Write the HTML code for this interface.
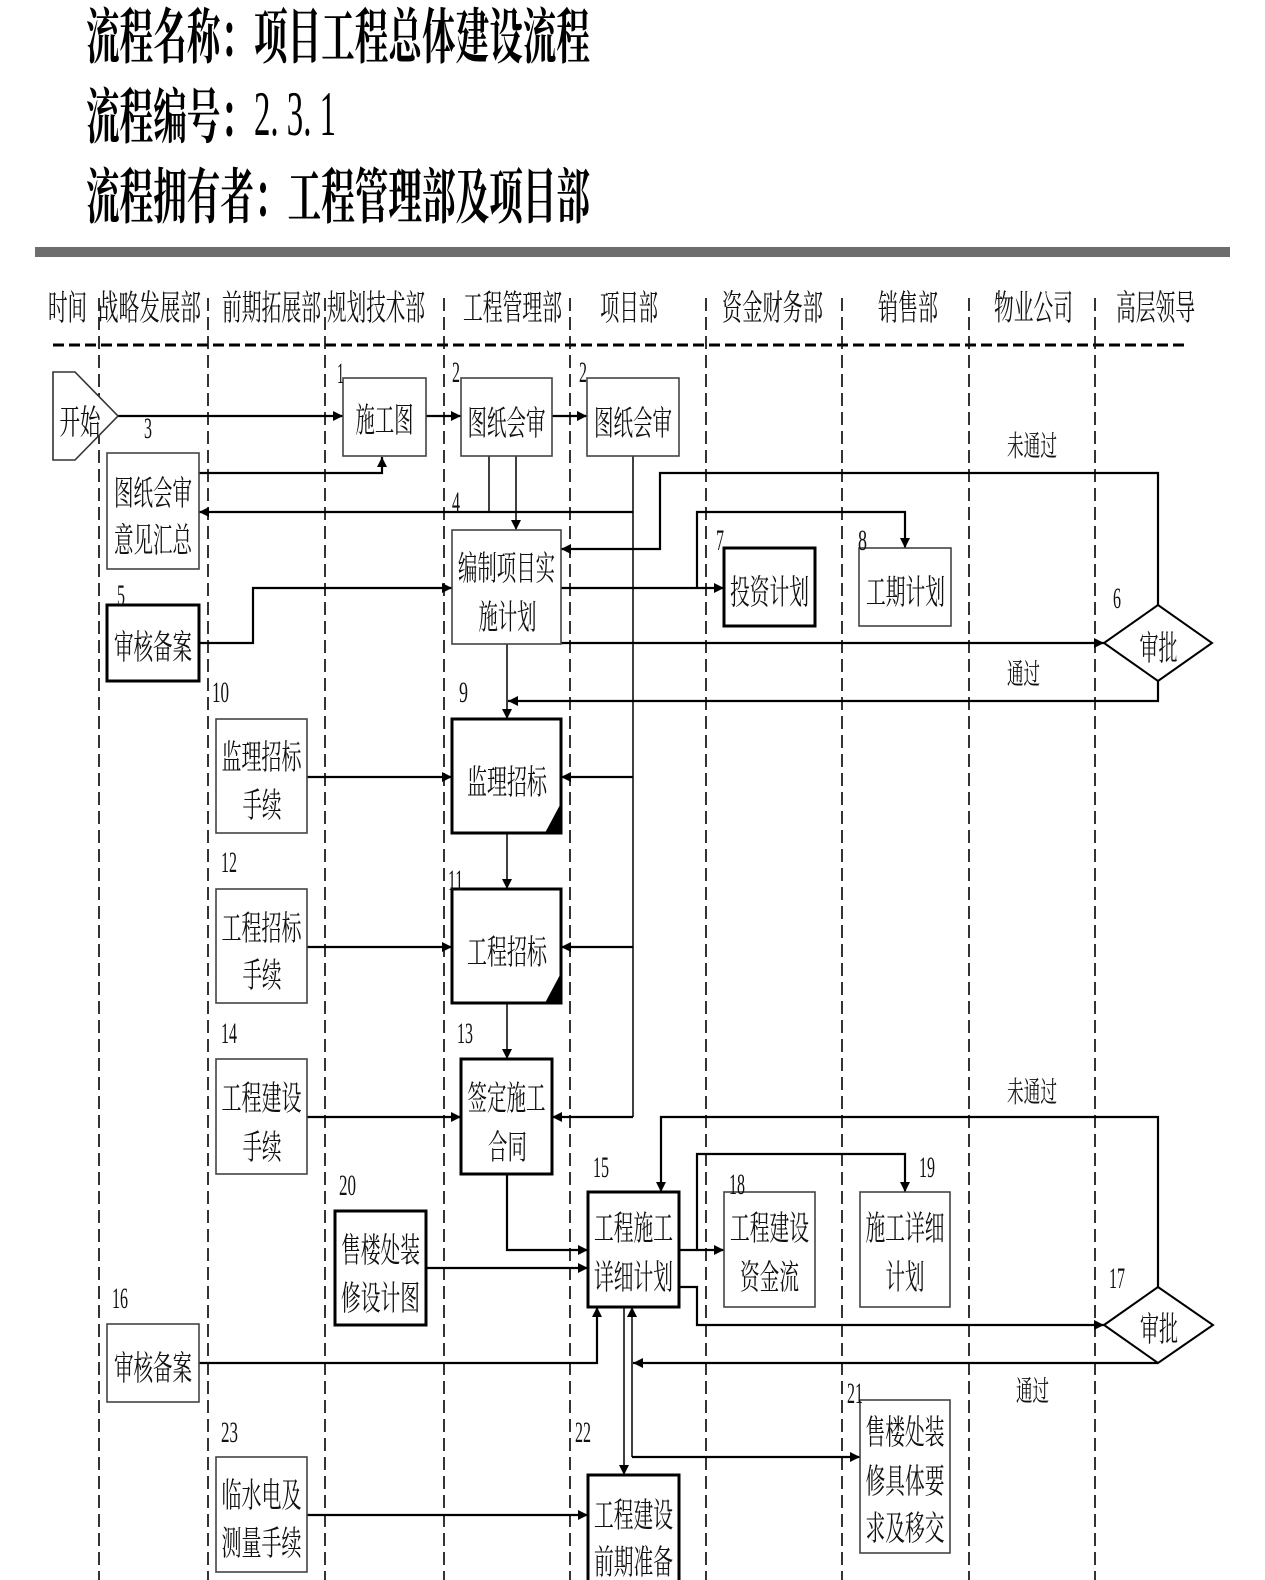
<!DOCTYPE html>
<html><head><meta charset="utf-8">
<style>
html,body{margin:0;padding:0;background:#fff;}
svg{display:block;}
.c{font-family:"Liberation Serif","Noto Serif CJK SC",serif;}
.b{font-family:"Liberation Serif","Noto Serif CJK SC",serif;font-size:34px;fill:#111;}
.n{font-family:"Liberation Serif",serif;font-size:30px;fill:#111;}
.h{font-family:"Liberation Serif","Noto Serif CJK SC",serif;font-size:35px;fill:#111;}
</style></head><body>
<svg width="1265" height="1580" viewBox="0 0 1265 1580" xmlns="http://www.w3.org/2000/svg">
<defs>
<marker id="a" viewBox="0 0 10 10" refX="10" refY="5" markerWidth="11" markerHeight="10" markerUnits="userSpaceOnUse" orient="auto"><path d="M0,0L10,5L0,10z" fill="#000"/></marker>
</defs>
<rect width="1265" height="1580" fill="#fff"/>

<!-- Title -->
<g class="c" font-weight="700" font-size="60" fill="#000">
<text x="86" y="58" textLength="504" lengthAdjust="spacingAndGlyphs">流程名称：项目工程总体建设流程</text>
<text x="86" y="138" textLength="168" lengthAdjust="spacingAndGlyphs">流程编号：</text>
<text x="86" y="218" textLength="504" lengthAdjust="spacingAndGlyphs">流程拥有者：工程管理部及项目部</text>
</g>
<text x="254" y="135" font-family="Liberation Serif, serif" font-size="64" fill="#000" textLength="82" lengthAdjust="spacingAndGlyphs">2. 3. 1</text>

<rect x="35" y="247" width="1195" height="10" fill="#6d6d6d"/>

<!-- Headers -->
<g class="h">
<text x="48" y="320" textLength="39" lengthAdjust="spacingAndGlyphs">时间</text>
<text x="98" y="320" textLength="103" lengthAdjust="spacingAndGlyphs">战略发展部</text>
<text x="222" y="320" textLength="99" lengthAdjust="spacingAndGlyphs">前期拓展部</text>
<text x="327" y="320" textLength="98" lengthAdjust="spacingAndGlyphs">规划技术部</text>
<text x="463" y="320" textLength="99" lengthAdjust="spacingAndGlyphs">工程管理部</text>
<text x="600" y="320" textLength="58" lengthAdjust="spacingAndGlyphs">项目部</text>
<text x="722" y="320" textLength="101" lengthAdjust="spacingAndGlyphs">资金财务部</text>
<text x="878" y="320" textLength="60" lengthAdjust="spacingAndGlyphs">销售部</text>
<text x="994" y="320" textLength="79" lengthAdjust="spacingAndGlyphs">物业公司</text>
<text x="1116" y="320" textLength="79" lengthAdjust="spacingAndGlyphs">高层领导</text>
</g>

<line x1="53" y1="345" x2="1185" y2="345" stroke="#000" stroke-width="3" stroke-dasharray="11 5"/>

<!-- Lanes -->
<g stroke="#111" stroke-width="1.7" stroke-dasharray="13 6">
<line x1="99" y1="298" x2="99" y2="1580"/>
<line x1="208" y1="298" x2="208" y2="1580"/>
<line x1="325" y1="298" x2="325" y2="1580"/>
<line x1="444" y1="298" x2="444" y2="1580"/>
<line x1="570" y1="298" x2="570" y2="1580"/>
<line x1="706" y1="298" x2="706" y2="1580"/>
<line x1="842" y1="298" x2="842" y2="1580"/>
<line x1="969" y1="298" x2="969" y2="1580"/>
<line x1="1095" y1="298" x2="1095" y2="1580"/>
</g>

<!-- Connectors -->
<g fill="none" stroke="#000" stroke-width="2.2">
<path d="M118,416H343" marker-end="url(#a)"/>
<path d="M426,416H461" marker-end="url(#a)"/>
<path d="M552,416H587" marker-end="url(#a)"/>
<path d="M199,473H382V457" marker-end="url(#a)"/>
<path d="M633,512H199" marker-end="url(#a)"/>
<path d="M1158,605V473H660V549H561" marker-end="url(#a)"/>
<path d="M199,643H253V588H452" marker-end="url(#a)"/>
<path d="M561,588H724" marker-end="url(#a)"/>
<path d="M697,588V512H905V548" marker-end="url(#a)"/>
<path d="M561,643H1104" marker-end="url(#a)"/>
<path d="M1158,681V701H508" marker-end="url(#a)"/>
<path d="M307,777H452" marker-end="url(#a)"/>
<path d="M633,777H561" marker-end="url(#a)"/>
<path d="M307,947H452" marker-end="url(#a)"/>
<path d="M633,947H561" marker-end="url(#a)"/>
<path d="M307,1117H461" marker-end="url(#a)"/>
<path d="M633,1117H552" marker-end="url(#a)"/>
<path d="M507,1174V1250H588" marker-end="url(#a)"/>
<path d="M426,1268H588" marker-end="url(#a)"/>
<path d="M199,1363H597V1307" marker-end="url(#a)"/>
<path d="M679,1250H724" marker-end="url(#a)"/>
<path d="M697,1250V1154H905V1192" marker-end="url(#a)"/>
<path d="M679,1287H697V1325H1104" marker-end="url(#a)"/>
<path d="M1158,1287V1117H661V1192" marker-end="url(#a)"/>
<path d="M1158,1363H633" marker-end="url(#a)"/>
<path d="M632,1457H860" marker-end="url(#a)"/>
<path d="M307,1515H588" marker-end="url(#a)"/>
</g>
<g fill="none" stroke="#000" stroke-width="1.5">
<path d="M489,456V512"/>
<path d="M516,456V530" marker-end="url(#a)"/>
<path d="M633,456V1117"/>
<path d="M507,644V719" marker-end="url(#a)"/>
<path d="M507,833V889" marker-end="url(#a)"/>
<path d="M507,1003V1059" marker-end="url(#a)"/>
<path d="M624,1307V1475" marker-end="url(#a)"/>
<path d="M632,1457V1307" marker-end="url(#a)"/>
</g>

<!-- Start -->
<polygon points="53,372 75,372 118,416 75,460 53,460" fill="#fff" stroke="#333" stroke-width="1.6"/>

<!-- Thin boxes -->
<g fill="#fff" stroke="#444" stroke-width="1.6">
<rect x="343" y="378" width="83" height="78"/>
<rect x="461" y="378" width="91" height="78"/>
<rect x="587" y="378" width="92" height="78"/>
<rect x="107" y="453" width="92" height="116"/>
<rect x="452" y="530" width="109" height="114"/>
<rect x="859" y="548" width="92" height="78"/>
<rect x="216" y="719" width="91" height="114"/>
<rect x="216" y="889" width="91" height="114"/>
<rect x="216" y="1059" width="91" height="115"/>
<rect x="724" y="1192" width="91" height="115"/>
<rect x="860" y="1192" width="90" height="115"/>
<rect x="107" y="1324" width="92" height="78"/>
<rect x="860" y="1400" width="90" height="153"/>
<rect x="216" y="1457" width="91" height="115"/>
</g>
<!-- Thick boxes -->
<g fill="#fff" stroke="#000" stroke-width="3">
<rect x="107" y="605" width="92" height="76"/>
<rect x="724" y="548" width="91" height="78"/>
<rect x="452" y="719" width="109" height="114"/>
<rect x="452" y="889" width="109" height="114"/>
<rect x="461" y="1059" width="91" height="115"/>
<rect x="335" y="1211" width="91" height="114"/>
<rect x="588" y="1192" width="91" height="115"/>
<rect x="588" y="1475" width="91" height="130"/>
</g>
<polygon points="561,803 561,833 545,833" fill="#000"/>
<polygon points="561,973 561,1003 545,1003" fill="#000"/>

<!-- Diamonds -->
<polygon points="1104,643 1158,605 1212,643 1158,681" fill="#fff" stroke="#000" stroke-width="2"/>
<polygon points="1104,1325 1158,1287 1213,1325 1158,1363" fill="#fff" stroke="#000" stroke-width="2"/>

<!-- Box texts -->
<g class="b" text-anchor="middle">
<text x="80" y="434" textLength="41" lengthAdjust="spacingAndGlyphs">开始</text>
<text x="384.5" y="432" textLength="58" lengthAdjust="spacingAndGlyphs">施工图</text>
<text x="506.5" y="435" textLength="78" lengthAdjust="spacingAndGlyphs">图纸会审</text>
<text x="633" y="435" textLength="78" lengthAdjust="spacingAndGlyphs">图纸会审</text>
<text x="153" y="505" textLength="78" lengthAdjust="spacingAndGlyphs">图纸会审</text>
<text x="153" y="552" textLength="78" lengthAdjust="spacingAndGlyphs">意见汇总</text>
<text x="506.5" y="580" textLength="97" lengthAdjust="spacingAndGlyphs">编制项目实</text>
<text x="507.5" y="629" textLength="58" lengthAdjust="spacingAndGlyphs">施计划</text>
<text x="153" y="659" textLength="78" lengthAdjust="spacingAndGlyphs">审核备案</text>
<text x="769.5" y="604" textLength="79" lengthAdjust="spacingAndGlyphs">投资计划</text>
<text x="905.5" y="604" textLength="79" lengthAdjust="spacingAndGlyphs">工期计划</text>
<text x="1158.5" y="660" textLength="38" lengthAdjust="spacingAndGlyphs">审批</text>
<text x="261.5" y="769" textLength="80" lengthAdjust="spacingAndGlyphs">监理招标</text>
<text x="262" y="817" textLength="39" lengthAdjust="spacingAndGlyphs">手续</text>
<text x="507" y="794" textLength="80" lengthAdjust="spacingAndGlyphs">监理招标</text>
<text x="261.5" y="940" textLength="80" lengthAdjust="spacingAndGlyphs">工程招标</text>
<text x="262" y="987" textLength="39" lengthAdjust="spacingAndGlyphs">手续</text>
<text x="507" y="964" textLength="80" lengthAdjust="spacingAndGlyphs">工程招标</text>
<text x="261.5" y="1110" textLength="80" lengthAdjust="spacingAndGlyphs">工程建设</text>
<text x="262" y="1159" textLength="39" lengthAdjust="spacingAndGlyphs">手续</text>
<text x="506.5" y="1110" textLength="78" lengthAdjust="spacingAndGlyphs">签定施工</text>
<text x="507.5" y="1159" textLength="39" lengthAdjust="spacingAndGlyphs">合同</text>
<text x="380.5" y="1262" textLength="79" lengthAdjust="spacingAndGlyphs">售楼处装</text>
<text x="380.5" y="1310" textLength="79" lengthAdjust="spacingAndGlyphs">修设计图</text>
<text x="633.5" y="1240" textLength="79" lengthAdjust="spacingAndGlyphs">工程施工</text>
<text x="633.5" y="1289" textLength="79" lengthAdjust="spacingAndGlyphs">详细计划</text>
<text x="769.5" y="1240" textLength="79" lengthAdjust="spacingAndGlyphs">工程建设</text>
<text x="769.5" y="1289" textLength="59" lengthAdjust="spacingAndGlyphs">资金流</text>
<text x="905" y="1240" textLength="79" lengthAdjust="spacingAndGlyphs">施工详细</text>
<text x="905" y="1289" textLength="39" lengthAdjust="spacingAndGlyphs">计划</text>
<text x="1159" y="1341" textLength="38" lengthAdjust="spacingAndGlyphs">审批</text>
<text x="153" y="1380" textLength="78" lengthAdjust="spacingAndGlyphs">审核备案</text>
<text x="905" y="1444" textLength="79" lengthAdjust="spacingAndGlyphs">售楼处装</text>
<text x="905" y="1493" textLength="79" lengthAdjust="spacingAndGlyphs">修具体要</text>
<text x="905" y="1540" textLength="79" lengthAdjust="spacingAndGlyphs">求及移交</text>
<text x="261.5" y="1507" textLength="80" lengthAdjust="spacingAndGlyphs">临水电及</text>
<text x="261.5" y="1555" textLength="80" lengthAdjust="spacingAndGlyphs">测量手续</text>
<text x="633.5" y="1527" textLength="79" lengthAdjust="spacingAndGlyphs">工程建设</text>
<text x="633.5" y="1574" textLength="79" lengthAdjust="spacingAndGlyphs">前期准备</text>
</g>

<!-- Connector labels -->
<g class="b" style="font-size:29px">
<text x="1007" y="456" textLength="50" lengthAdjust="spacingAndGlyphs">未通过</text>
<text x="1007" y="684" textLength="33" lengthAdjust="spacingAndGlyphs">通过</text>
<text x="1007" y="1102" textLength="50" lengthAdjust="spacingAndGlyphs">未通过</text>
<text x="1016" y="1401" textLength="33" lengthAdjust="spacingAndGlyphs">通过</text>
</g>

<!-- Number labels -->
<g class="n">
<text x="337" y="383" textLength="7" lengthAdjust="spacingAndGlyphs">1</text>
<text x="452" y="382" textLength="8" lengthAdjust="spacingAndGlyphs">2</text>
<text x="579" y="382" textLength="8" lengthAdjust="spacingAndGlyphs">2</text>
<text x="144" y="438" textLength="8" lengthAdjust="spacingAndGlyphs">3</text>
<text x="452" y="512" textLength="8" lengthAdjust="spacingAndGlyphs">4</text>
<text x="117" y="605" textLength="8" lengthAdjust="spacingAndGlyphs">5</text>
<text x="1113" y="608" textLength="8" lengthAdjust="spacingAndGlyphs">6</text>
<text x="716" y="550" textLength="8" lengthAdjust="spacingAndGlyphs">7</text>
<text x="858" y="550" textLength="9" lengthAdjust="spacingAndGlyphs">8</text>
<text x="459" y="702" textLength="9" lengthAdjust="spacingAndGlyphs">9</text>
<text x="212" y="702" textLength="17" lengthAdjust="spacingAndGlyphs">10</text>
<text x="448" y="890" textLength="15" lengthAdjust="spacingAndGlyphs">11</text>
<text x="221" y="872" textLength="16" lengthAdjust="spacingAndGlyphs">12</text>
<text x="457" y="1043" textLength="16" lengthAdjust="spacingAndGlyphs">13</text>
<text x="221" y="1043" textLength="16" lengthAdjust="spacingAndGlyphs">14</text>
<text x="593" y="1177" textLength="16" lengthAdjust="spacingAndGlyphs">15</text>
<text x="112" y="1308" textLength="16" lengthAdjust="spacingAndGlyphs">16</text>
<text x="1109" y="1288" textLength="16" lengthAdjust="spacingAndGlyphs">17</text>
<text x="729" y="1194" textLength="16" lengthAdjust="spacingAndGlyphs">18</text>
<text x="919" y="1177" textLength="16" lengthAdjust="spacingAndGlyphs">19</text>
<text x="339" y="1195" textLength="17" lengthAdjust="spacingAndGlyphs">20</text>
<text x="847" y="1403" textLength="16" lengthAdjust="spacingAndGlyphs">21</text>
<text x="575" y="1442" textLength="16" lengthAdjust="spacingAndGlyphs">22</text>
<text x="221" y="1442" textLength="17" lengthAdjust="spacingAndGlyphs">23</text>
</g>
</svg>
</body></html>
